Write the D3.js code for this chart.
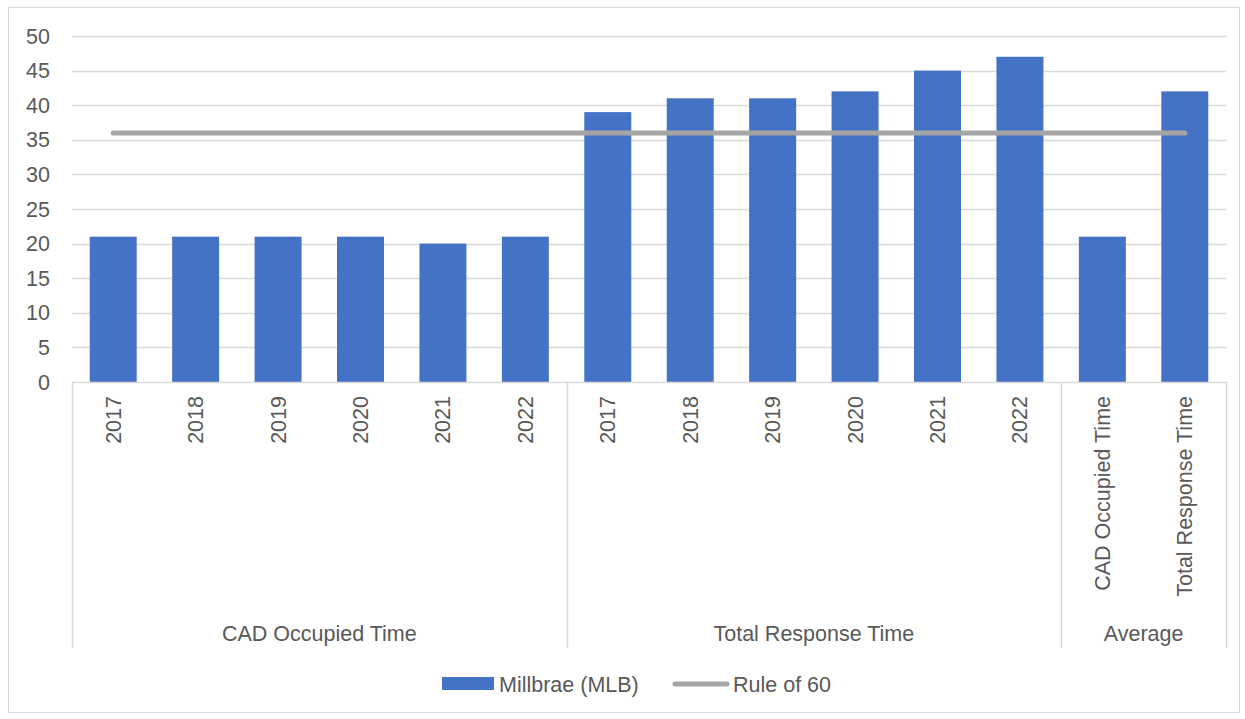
<!DOCTYPE html>
<html><head><meta charset="utf-8">
<script src="https://cdn.jsdelivr.net/npm/d3@7"></script>
<style>body{margin:0;background:#fff}svg{display:block}text{font-family:"Liberation Sans",Arial,sans-serif;fill:#595959}</style>
</head><body><svg id="c" width="1245" height="719"></svg>
<script>
const categories = ["2017","2018","2019","2020","2021","2022","2017","2018","2019","2020","2021","2022","CAD Occupied Time","Total Response Time"];
const groups = ["CAD Occupied Time","Total Response Time","Average"];
const groupSizes = [6,6,2];
const millbrae = [21,21,21,21,20,21,39,41,41,42,45,47,21,42];
const ruleOf60 = [36,36,36,36,36,36,36,36,36,36,36,36,36,36];
const yTicks = [0,5,10,15,20,25,30,35,40,45,50];

const svg = d3.select("#c");
const L=72,R=1226,T=36,B=382,fs=21.5;
svg.append("rect").attr("x",8.5).attr("y",7.5).attr("width",1231).attr("height",705).attr("fill","#fff").attr("stroke","#d9d9d9");
const x = d3.scaleBand().domain(d3.range(categories.length)).range([L,R]).paddingInner(0.43).paddingOuter(0.215);
const y = d3.scaleLinear().domain([0,50]).range([B,T]);

svg.append("g").selectAll("line").data(yTicks.filter(d=>d>0)).join("line")
  .attr("x1",L).attr("x2",R).attr("y1",d=>Math.round(y(d))+0.5).attr("y2",d=>Math.round(y(d))+0.5)
  .attr("stroke","#d9d9d9").attr("stroke-width",1.5);
svg.append("g").selectAll("text").data(yTicks).join("text")
  .attr("x",50).attr("y",d=>y(d)).attr("dy","0.35em").attr("text-anchor","end").attr("font-size",fs).text(d=>d);

svg.append("g").selectAll("rect").data(millbrae).join("rect")
  .attr("x",(d,i)=>x(i)).attr("width",x.bandwidth()).attr("y",d=>y(d)).attr("height",d=>B-y(d)).attr("fill","#4472c4");

// category axis
svg.append("line").attr("x1",L).attr("x2",R).attr("y1",B+0.5).attr("y2",B+0.5).attr("stroke","#d9d9d9").attr("stroke-width",1.5);
const step = x.step();
let bounds=[0]; groupSizes.reduce((a,s)=>{bounds.push(a+s);return a+s},0);
svg.append("g").selectAll("line").data(bounds).join("line")
  .attr("x1",d=>Math.round(L+d*step)+0.5).attr("x2",d=>Math.round(L+d*step)+0.5).attr("y1",B).attr("y2",648)
  .attr("stroke","#d9d9d9").attr("stroke-width",1.5);
svg.append("g").selectAll("text").data(categories).join("text")
  .attr("transform",(d,i)=>`translate(${x(i)+x.bandwidth()/2},396) rotate(-90)`)
  .attr("text-anchor","end").attr("dy","0.35em").attr("font-size",fs).text(d=>d);
svg.append("g").selectAll("text").data(groups).join("text")
  .attr("x",(d,i)=>L+(bounds[i]+bounds[i+1])/2*step).attr("y",633).attr("dy","0.35em")
  .attr("text-anchor","middle").attr("font-size",fs).text(d=>d);

// line
const line = d3.line().x((d,i)=>x(i)+x.bandwidth()/2).y(d=>y(d));
svg.append("path").datum(ruleOf60).attr("d",line).attr("fill","none").attr("stroke","#a5a5a5").attr("stroke-width",5).attr("stroke-linecap","round");

// legend
const lg = svg.append("g");
lg.append("rect").attr("x",442).attr("y",677).attr("width",52).attr("height",13).attr("fill","#4472c4");
lg.append("text").attr("x",499).attr("y",684).attr("dy","0.35em").attr("font-size",fs).text("Millbrae (MLB)");
lg.append("line").attr("x1",675).attr("x2",727).attr("y1",684).attr("y2",684).attr("stroke","#a5a5a5").attr("stroke-width",5).attr("stroke-linecap","round");
lg.append("text").attr("x",733).attr("y",684).attr("dy","0.35em").attr("font-size",fs).text("Rule of 60");
</script></body></html>
